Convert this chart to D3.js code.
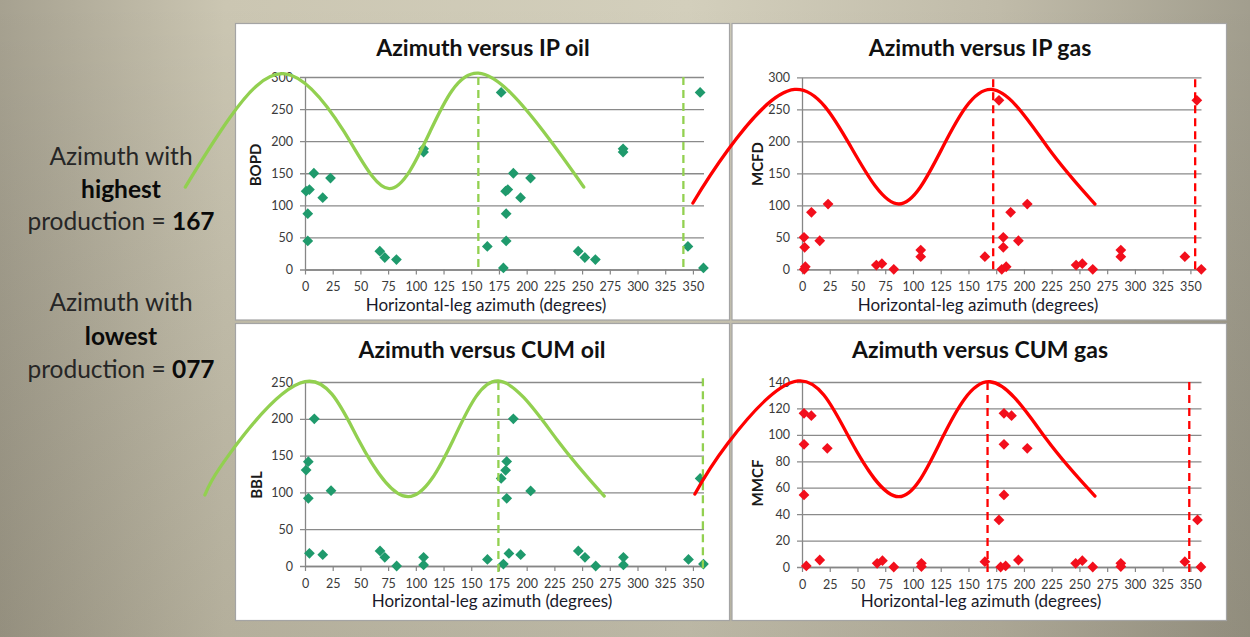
<!DOCTYPE html>
<html><head><meta charset="utf-8">
<script src="https://cdn.jsdelivr.net/npm/d3@7"></script>
<style>html,body{margin:0;padding:0;overflow:hidden;background:#fff}</style>
</head><body>
<svg id="c" width="1250" height="637"></svg>
<script>
// ---------------- DATA ----------------
const xTickValues = [0,25,50,75,100,125,150,175,200,225,250,275,300,325,350];
const ipOilTicks  = [0,50,100,150,200,250,300];
const ipGasTicks  = [0,50,100,150,200,250,300];
const cumOilTicks = [0,50,100,150,200,250];
const cumGasTicks = [0,20,40,60,80,100,120,140];

const chartTitles = ["Azimuth versus IP oil","Azimuth versus IP gas","Azimuth versus CUM oil","Azimuth versus CUM gas"];
const yAxisTitles = ["BOPD","MCFD","BBL","MMCF"];
const xAxisTitle  = "Horizontal-leg azimuth (degrees)";

// IP oil (BOPD)
const ipOilAz  = [1,4,2.5,2.5,8,16,23,67.5,72,82.5,107,107,164.5,177,179,181,183,181.5,181.5,188,194.5,203.5,246.5,252.5,262,287,287,345.5,356.5,359.5];
const ipOilVal = [122,124.5,87,44.5,150,112,142.5,28.5,18.7,15.5,183,188,36,276,2.5,122,124.5,87,44.5,150,112,142.5,28.5,18.7,15.5,183,188,36,276,2.5];
// IP gas (MCFD)
const ipGasAz  = [1.8,2.4,3,2,8.5,16,23.5,67,72,82.7,107,107,164.8,177.5,180,181.4,181.4,184,188,195,203,247,252.6,262,287.3,287.3,345,355.8,359.8];
const ipGasVal = [50,34.4,4,0,89,44.6,102,6.7,8.7,0,30,19.7,19.7,264,0,50,34.4,4,89,44.6,102,6.7,8.7,0,30,19.7,19.7,264,0];
// CUM oil (BBL)
const cumOilAz  = [1,3,3,4,8.4,16,23.5,67.7,72,82.7,107,107,164.6,177,179,181,182,182,184,188,194.6,203.6,246.6,252.6,262.3,287.3,287.3,346,356.5,359.5];
const cumOilVal = [130.4,141.8,92,17.2,200,15.4,102.3,20.4,11.8,0,11.8,1.4,9,119,2.7,130,142,92,17,200,15.4,102,20.4,11.8,0,11.8,1.4,9,119,2.7];
// CUM gas (MMCF)
const cumGasAz  = [1.8,8.4,1.8,1.8,3.9,16,22.8,67.7,72.5,82.7,107.6,107.6,164.8,177.5,179,182,188.8,182,182,183.5,195,203,246.6,252.6,262,287.3,287.3,345,356.4,359.5];
const cumGasVal = [116.3,114.5,92.8,54.5,0.8,5.3,89.8,2.8,4.8,0,2.8,0.3,4,35.6,0,116.3,114.5,92.8,54.5,0.8,5.3,89.8,2.8,4.8,0,2.8,0.3,4,35.6,0];

// Hand-drawn trend curves, read as [azimuth, value] in each chart's units
const ipOilCurve  = [[-108,128.5],[-67.7,237],[-18,305],[35,215.5],[76,126],[113,215.5],[156.4,306],[215,215.5],[251.5,128.5]];
const ipGasCurve  = [[-98.3,103.6],[-66.8,186.4],[-6.6,281],[44,191.5],[87.3,102],[127,191.5],[170.8,281],[221,191.5],[264,102]];
const cumOilCurve = [[-90.3,96.5],[-67.7,153],[0,250.4],[48,172.3],[93.2,94.2],[134,172.3],[174.5,251.4],[227,172.3],[270,95]];
const cumGasCurve = [[-96.5,55.2],[-66.8,93.6],[-3.6,140.8],[43,97],[87.3,53.2],[126,97],[169.4,140.2],[220,97],[264,53.7]];

// Vertical dashed markers: [azimuth, top value, bottom value]
const ipOilDashes  = [[156.4,300,-1],[341.4,300,-1]];
const ipGasDashes  = [[172.3,297,-3],[354.3,297,-3]];
const cumOilDashes = [[174.5,250,-10],[359,255,-3]];
const cumGasDashes = [[167.2,140,-4],[349,140,-4]];

// Side annotation text
const sideText = [
  [["Azimuth with",false]],
  [["highest",true]],
  [["production = ",false],["167",true]],
  [["Azimuth with",false]],
  [["lowest",true]],
  [["production = ",false],["077",true]]
];

// ---------------- DRAW ----------------
const svg = d3.select("#c");
const defs = svg.append("defs");
const g1 = defs.append("linearGradient").attr("id","bgH").attr("x1",0).attr("y1",0).attr("x2",1).attr("y2",0);
[[0,"#a6a190"],[0.18,"#cbc6b2"],[0.55,"#d3cfbc"],[0.8,"#c0bba9"],[1,"#a29e8e"]].forEach(s=>g1.append("stop").attr("offset",s[0]).attr("stop-color",s[1]));
const g2 = defs.append("linearGradient").attr("id","bgV").attr("x1",0).attr("y1",0).attr("x2",0).attr("y2",1);
[[0,"rgba(0,0,0,0)"],[1,"rgba(40,35,20,0.14)"]].forEach(s=>g2.append("stop").attr("offset",s[0]).attr("stop-color",s[1]));
svg.append("rect").attr("width",1250).attr("height",637).attr("fill","url(#bgH)");
svg.append("rect").attr("width",1250).attr("height",637).attr("fill","url(#bgV)");

const GREEN = "#92d050", RED = "#ff0000";
const panels = [
  {box:[235,23,730,320.5], plot:[305,704,77,269.5], yMax:300, ticks:ipOilTicks, az:ipOilAz, val:ipOilVal, mark:"#1f9a6c", line:GREEN, curve:ipOilCurve, dashes:ipOilDashes, titleX:483, titleY:56, xtX:486, xtY:311, ytX:256, ytY:165},
  {box:[731.5,23,1227,320.5], plot:[802,1201.5,77.3,269.3], yMax:300, ticks:ipGasTicks, az:ipGasAz, val:ipGasVal, mark:"#f20f1c", line:RED, curve:ipGasCurve, dashes:ipGasDashes, titleX:980, titleY:56, xtX:978, xtY:311, ytX:758, ytY:164},
  {box:[235,323,730,621], plot:[305,704,382,566], yMax:250, ticks:cumOilTicks, az:cumOilAz, val:cumOilVal, mark:"#1f9a6c", line:GREEN, curve:cumOilCurve, dashes:cumOilDashes, titleX:482, titleY:357.5, xtX:492, xtY:607, ytX:257, ytY:485},
  {box:[731.5,323,1227,621], plot:[802,1201.5,382,567], yMax:140, ticks:cumGasTicks, az:cumGasAz, val:cumGasVal, mark:"#f20f1c", line:RED, curve:cumGasCurve, dashes:cumGasDashes, titleX:980, titleY:357.5, xtX:981, xtY:607, ytX:758, ytY:483}
];
const FONT = "Lato, 'Open Sans', sans-serif";

panels.forEach((p,i)=>{
  p.x = d3.scaleLinear().domain([0,360]).range([p.plot[0],p.plot[1]]);
  p.y = d3.scaleLinear().domain([0,p.yMax]).range([p.plot[3],p.plot[2]]);
  const [bx0,by0,bx1,by1] = p.box;
  svg.append("rect").attr("x",bx0+0.5).attr("y",by0+0.5).attr("width",bx1-bx0-1).attr("height",by1-by0-1)
     .attr("fill","#fff").attr("stroke","#a4a4a4").attr("stroke-width",1.2);

  const pw = p.plot[1]-p.plot[0];
  const ya = svg.append("g").attr("transform",`translate(${p.plot[0]},0)`)
    .call(d3.axisLeft(p.y).tickValues(p.ticks).tickSizeInner(-pw).tickSizeOuter(0).tickPadding(12));
  ya.select(".domain").attr("stroke","#868686").attr("stroke-width",1.3);
  ya.selectAll(".tick line").attr("x1",-5).attr("stroke","#8a8a8a").attr("stroke-width",1.3);
  ya.selectAll(".tick text").attr("fill","#3a3a3a").style("font-family",FONT).style("font-size","12.5px");

  const xa = svg.append("g").attr("transform",`translate(0,${p.plot[3]})`)
    .call(d3.axisBottom(p.x).tickValues(xTickValues).tickSizeInner(5).tickSizeOuter(0).tickPadding(8));
  xa.select(".domain").attr("stroke","#868686").attr("stroke-width",1.3);
  xa.selectAll(".tick line").attr("stroke","#868686").attr("stroke-width",1.2);
  xa.selectAll(".tick text").attr("fill","#3a3a3a").style("font-family",FONT).style("font-size","12.5px");

  svg.append("text").attr("x",p.titleX).attr("y",p.titleY).attr("text-anchor","middle")
     .style("font-family",FONT).style("font-weight","bold").style("font-size","23px").attr("fill","#111").text(chartTitles[i]);
  svg.append("text").attr("x",p.xtX).attr("y",p.xtY).attr("text-anchor","middle")
     .style("font-family",FONT).style("font-size","17px").attr("fill","#1a1a2a").text(xAxisTitle);
  svg.append("text").attr("transform",`translate(${p.ytX},${p.ytY}) rotate(-90)`).attr("text-anchor","middle").attr("dy","0.35em")
     .style("font-family",FONT).style("font-weight","bold").style("font-size","15px").attr("fill","#1a1a1a").text(yAxisTitles[i]);

  const sym = d3.symbol().type(d3.symbolSquare).size(58);
  svg.append("g").selectAll("path").data(p.az.map((a,k)=>[a,p.val[k]])).join("path")
     .attr("d",sym).attr("transform",d=>`translate(${p.x(d[0])},${p.y(d[1])}) rotate(45)`)
     .attr("fill",p.mark);
});

// annotation overlays (dashed verticals and trend curves) on top
panels.forEach(p=>{
  svg.append("g").selectAll("line").data(p.dashes).join("line")
     .attr("x1",d=>p.x(d[0])).attr("x2",d=>p.x(d[0]))
     .attr("y1",d=>p.y(d[1])).attr("y2",d=>p.y(d[2]))
     .attr("stroke",p.line).attr("stroke-width",2.3).attr("stroke-dasharray","8,5");
});
panels.forEach(p=>{
  const line = d3.line().x(d=>p.x(d[0])).y(d=>p.y(d[1])).curve(d3.curveNatural);
  svg.append("path").datum(p.curve).attr("d",line).attr("fill","none")
     .attr("stroke",p.line).attr("stroke-width",3.3).attr("stroke-linecap","round");
});

// side text
const lineY = [165,198,230,311,345,378];
sideText.forEach((parts,i)=>{
  const t = svg.append("text").attr("x",121).attr("y",lineY[i]).attr("text-anchor","middle")
     .style("font-family",FONT).style("font-size","24.5px").attr("fill","#1e1e1e");
  parts.forEach(pt=>t.append("tspan").style("font-weight",pt[1]?"bold":"normal").attr("fill",pt[1]?"#0a0a0a":"#262626").text(pt[0]));
});
</script></body></html>
